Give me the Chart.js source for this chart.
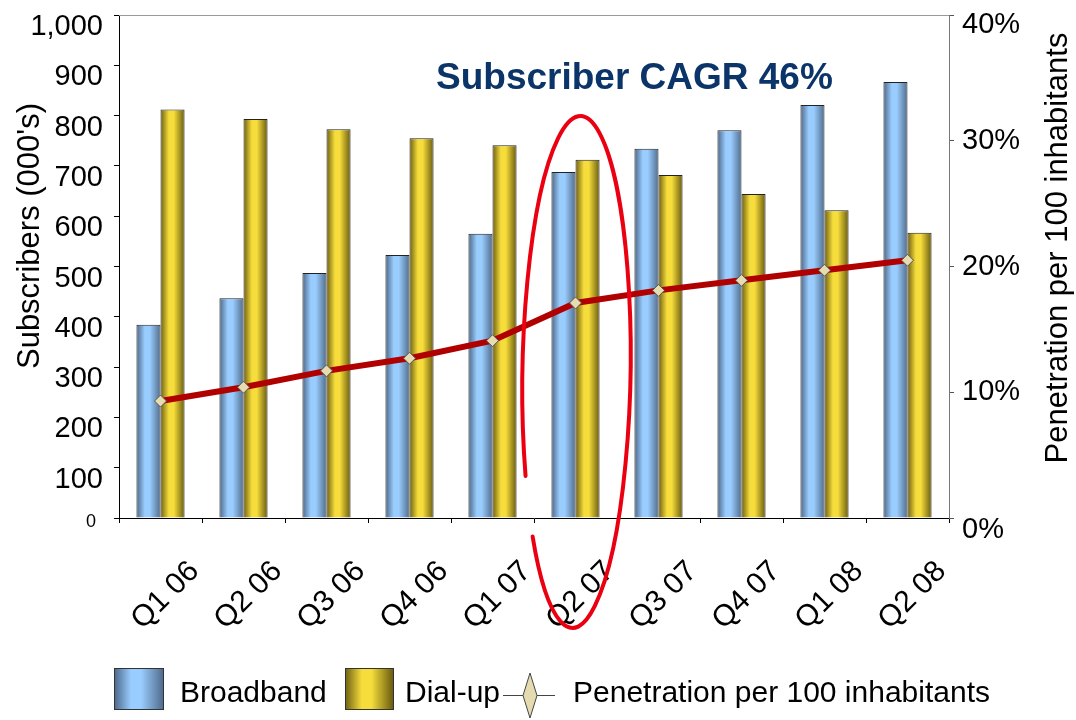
<!DOCTYPE html>
<html>
<head>
<meta charset="utf-8">
<script src="https://cdn.jsdelivr.net/npm/chart.js@4.4.1/dist/chart.umd.min.js"></script>
<style>
  body { margin: 0; background: #fff; }
  canvas { display: block; }
</style>
</head>
<body>
<canvas id="myChart" width="1076" height="720"></canvas>
<script>
// Dados
const quarters = ['Q1 06', 'Q2 06', 'Q3 06', 'Q4 06', 'Q1 07', 'Q2 07', 'Q3 07', 'Q4 07', 'Q1 08', 'Q2 08'];
const broadband = [384, 437, 487, 523, 565, 688, 734, 771, 821, 867];
const dialup = [812, 793, 773, 755, 741, 712, 682, 644, 612, 567];
const penetration = [9.3, 10.4, 11.7, 12.7, 14.1, 17.1, 18.1, 18.9, 19.7, 20.5];
const subscriberTicks = [0, 100, 200, 300, 400, 500, 600, 700, 800, 900, 1000];
const penetrationTicks = [0, 10, 20, 30, 40];
const highlightQuarter = 'Q2 07';

const FONT = "'Liberation Sans', Arial, sans-serif";
Chart.defaults.font.family = FONT;
Chart.defaults.color = '#000';

const CAT_PCT = 0.58;
const blueStops = [[0, '#4b6686'], [0.35, '#9acdff'], [0.55, '#9acdff'], [1, '#506d8d']];
const goldStops = [[0, '#6c5e0f'], [0.35, '#f6dd3c'], [0.55, '#f6dd3c'], [1, '#6a5c0e']];

function makeGradient(ctx, x0, x1, stops) {
    const g = ctx.createLinearGradient(x0, 0, x1, 0);
    stops.forEach(s => g.addColorStop(s[0], s[1]));
    return g;
}

// gradiente horizontal para cada barra
function barFill(stops, side) {
    return (context) => {
        const chart = context.chart;
        const xs = chart.scales.x;
        if (context.type !== 'data' || !chart.chartArea || !xs) return stops[1][1];
        const w = (xs.width / quarters.length) * CAT_PCT / 2;
        const cx = xs.getPixelForValue(context.dataIndex) + side * w / 2;
        if (!isFinite(cx)) return stops[1][1];
        return makeGradient(chart.ctx, cx - w / 2, cx + w / 2, stops);
    };
}

const extras = {
    id: 'extras',
    afterDatasetsDraw(chart) {
        // elipse vermelha desenhada à mão
        const ctx = chart.ctx;
        const xs = chart.scales.x;
        const cx = xs.getPixelForValue(quarters.indexOf(highlightQuarter));
        ctx.save();
        ctx.strokeStyle = '#ea0010';
        ctx.lineWidth = 4;
        ctx.lineCap = 'round';
        ctx.beginPath();
        ctx.ellipse(cx + 1, 372, 54, 256, 0.016, 2.72, 2.44 + Math.PI * 2);
        ctx.stroke();
        ctx.restore();
    },
    afterDraw(chart) {
        const ctx = chart.ctx;
        const area = chart.chartArea;
        const y = chart.scales.y;
        const y1 = chart.scales.y1;
        ctx.save();
        // borda do topo
        ctx.strokeStyle = '#999';
        ctx.lineWidth = 1;
        ctx.beginPath();
        ctx.moveTo(area.left, area.top + 0.5);
        ctx.lineTo(area.right, area.top + 0.5);
        ctx.stroke();

        // rótulos das pontas dos eixos (deslocados como no original)
        ctx.fillStyle = '#000';
        ctx.textBaseline = 'middle';
        ctx.textAlign = 'right';
        ctx.font = '18px ' + FONT;
        ctx.fillText(String(subscriberTicks[0]), 96, y.getPixelForValue(subscriberTicks[0]) + 4);
        ctx.textAlign = 'left';
        ctx.font = '29px ' + FONT;
        const pMin = penetrationTicks[0];
        const pMax = penetrationTicks[penetrationTicks.length - 1];
        ctx.fillText(pMin + '%', 962, y1.getPixelForValue(pMin) + 12);
        ctx.fillText(pMax + '%', 962, y1.getPixelForValue(pMax) + 10);

        // titulo CAGR
        ctx.fillStyle = '#0b3468';
        ctx.font = 'bold 37px ' + FONT;
        ctx.textAlign = 'left';
        ctx.textBaseline = 'alphabetic';
        ctx.fillText('Subscriber CAGR 46%', 436, 89);

        // titulos dos eixos
        ctx.fillStyle = '#000';
        ctx.font = '31px ' + FONT;
        ctx.textAlign = 'center';
        ctx.textBaseline = 'middle';
        ctx.save();
        ctx.translate(30, 236);
        ctx.rotate(-Math.PI / 2);
        ctx.fillText("Subscribers (000's)", 0, 0);
        ctx.restore();
        ctx.save();
        ctx.translate(1058, 248);
        ctx.rotate(-Math.PI / 2);
        ctx.fillText(chart.data.datasets[2].label, 0, 0);
        ctx.restore();

        // legenda
        ctx.font = '30px ' + FONT;
        ctx.textAlign = 'left';
        ctx.textBaseline = 'alphabetic';
        ctx.strokeStyle = '#333';
        ctx.fillStyle = makeGradient(ctx, 114, 163, blueStops);
        ctx.fillRect(114, 668, 49, 41);
        ctx.strokeRect(114.5, 668.5, 49, 41);
        ctx.fillStyle = '#000';
        ctx.fillText(chart.data.datasets[0].label, 180, 702);

        ctx.fillStyle = makeGradient(ctx, 345, 393, goldStops);
        ctx.fillRect(345, 668, 48, 41);
        ctx.strokeRect(345.5, 668.5, 48, 41);
        ctx.fillStyle = '#000';
        ctx.fillText(chart.data.datasets[1].label, 405, 702);

        ctx.strokeStyle = '#444';
        ctx.lineWidth = 1;
        ctx.beginPath();
        ctx.moveTo(503, 695.5);
        ctx.lineTo(555, 695.5);
        ctx.stroke();
        ctx.beginPath();
        ctx.moveTo(530, 673);
        ctx.lineTo(537, 695.5);
        ctx.lineTo(530, 718);
        ctx.lineTo(523, 695.5);
        ctx.closePath();
        ctx.fillStyle = '#e4dbb0';
        ctx.fill();
        ctx.stroke();
        ctx.fillStyle = '#000';
        ctx.fillText(chart.data.datasets[2].label, 573, 702);
        ctx.restore();
    }
};

const ctx = document.getElementById('myChart').getContext('2d');

new Chart(ctx, {
    data: {
        labels: quarters,
        datasets: [
            {
                type: 'bar',
                label: 'Broadband',
                data: broadband,
                yAxisID: 'y',
                backgroundColor: barFill(blueStops, -1),
                borderColor: '#222',
                borderWidth: 1,
                categoryPercentage: CAT_PCT,
                barPercentage: 1,
                order: 2
            },
            {
                type: 'bar',
                label: 'Dial-up',
                data: dialup,
                yAxisID: 'y',
                backgroundColor: barFill(goldStops, 1),
                borderColor: '#222',
                borderWidth: 1,
                categoryPercentage: CAT_PCT,
                barPercentage: 1,
                order: 2
            },
            {
                type: 'line',
                label: 'Penetration per 100 inhabitants',
                data: penetration,
                yAxisID: 'y1',
                borderColor: '#b00000',
                borderWidth: 6,
                tension: 0,
                pointStyle: 'rectRot',
                pointRadius: 6,
                pointBackgroundColor: '#e6dcb0',
                pointBorderColor: '#555',
                pointBorderWidth: 1,
                order: 0
            }
        ]
    },
    options: {
        responsive: false,
        animation: false,
        layout: { padding: { top: 15, left: 0, right: 0, bottom: 0 } },
        plugins: {
            legend: { display: false },
            tooltip: { enabled: false }
        },
        scales: {
            x: {
                offset: true,
                grid: { offset: true, drawOnChartArea: false, tickLength: 5, color: '#000' },
                border: { color: '#000' },
                ticks: {
                    autoSkip: false,
                    maxRotation: 45,
                    minRotation: 45,
                    labelOffset: 34,
                    padding: 31,
                    font: { size: 30 },
                    color: '#000'
                },
                afterFit(scale) {
                    scale.height = 202;
                    scale.paddingLeft = 0;
                    scale.paddingRight = 0;
                }
            },
            y: {
                position: 'left',
                min: 0,
                max: 1000,
                grid: { drawOnChartArea: false, tickLength: 5, color: '#000' },
                border: { color: '#000' },
                afterBuildTicks(scale) {
                    scale.ticks = subscriberTicks.map(v => ({ value: v }));
                },
                ticks: {
                    padding: 11,
                    labelOffset: 12,
                    color: '#000',
                    font: { size: 29 },
                    // o "0" é desenhado à parte, menor
                    callback: (v) => v === 0 ? '' : v.toLocaleString('en-US')
                },
                afterFit(scale) {
                    scale.width = 119;
                    scale.paddingTop = 0;
                    scale.paddingBottom = 0;
                }
            },
            y1: {
                position: 'right',
                min: 0,
                max: 40,
                grid: { drawOnChartArea: false, tickLength: 5, color: '#555' },
                border: { color: '#777' },
                afterBuildTicks(scale) {
                    scale.ticks = penetrationTicks.map(v => ({ value: v }));
                },
                ticks: {
                    padding: 8,
                    color: '#000',
                    font: { size: 29 },
                    callback: (v) => (v === 0 || v === 40) ? '' : v + '%'
                },
                afterFit(scale) {
                    scale.width = 127;
                    scale.paddingTop = 0;
                    scale.paddingBottom = 0;
                }
            }
        }
    },
    plugins: [extras]
});
</script>
</body>
</html>
